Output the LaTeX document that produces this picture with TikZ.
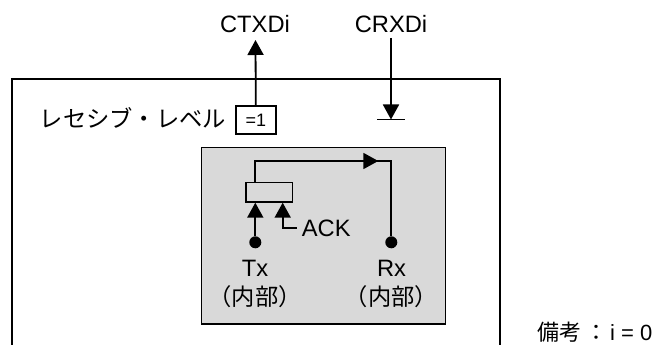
\documentclass[tikz,border=0pt]{standalone}
\usepackage{fontspec}
\setmainfont{Liberation Sans}
\newfontfamily\cjk{Noto Sans CJK JP}
\usetikzlibrary{arrows.meta}
\definecolor{boxgray}{HTML}{D9D9D9}
\tikzset{
  ln/.style={draw=black,line width=1.8pt},
  arr/.style={ln,-{Triangle[length=15pt,width=16pt]}},
  lbl/.style={inner sep=0pt,font=\fontsize{23.7}{26}\selectfont,text=black},
  jp/.style={inner sep=0pt,font=\cjk\fontsize{23.3}{26}\selectfont,text=black},
  dot/.style={circle,fill=black,inner sep=0pt,minimum size=12pt}
}
\begin{document}
\begin{tikzpicture}[x=1pt,y=-1pt]
\useasboundingbox (0,0) rectangle (654,345);
\coordinate (ol) at (11.7,345);
\coordinate (otl) at (11.7,79.3);
\coordinate (otr) at (500,79.3);
\coordinate (or) at (500,345);
\draw[ln] (ol) -- (otl) -- (otr) -- (or);
\node[draw=black,line width=1.5pt,fill=boxgray,minimum width=244pt,minimum height=176.5pt,inner sep=0pt] (gray) at (323.5,235.5) {};
\node[lbl] (ctx) at (255,23.7) {CTXDi};
\node[lbl] (crx) at (391,23.7) {CRXDi};
\node[jp,anchor=west] (rec) at (39.5,118) {レセシブ・レベル};
\node[draw=black,line width=1.5pt,fill=white,minimum width=40pt,minimum height=28pt,inner sep=0pt,font=\fontsize{18}{20}\selectfont] (eq) at (255.8,120) {=1};
\coordinate (ctxe) at (255.5,40);
\draw[arr] (eq.north) -- (ctxe);
\coordinate (crxs) at (391,38);
\coordinate (crxe) at (391,119.5);
\draw[arr] (crxs) -- (crxe);
\coordinate (barl) at (377,119.5);
\coordinate (barr) at (405,119.5);
\draw[ln] (barl) -- (barr);
\node[draw=black,line width=1.5pt,fill=boxgray,minimum width=46.5pt,minimum height=19.5pt,inner sep=0pt] (reg) at (269.3,192) {};
\node[dot] (txd) at (255.3,242.3) {};
\node[dot] (rxd) at (391.3,242.3) {};
\coordinate (txe) at (255.3,202.7);
\draw[arr] (txd) -- (txe);
\coordinate (acke) at (282.7,202.7);
\coordinate (ackc) at (282.7,228.3);
\coordinate (acks) at (296.7,228.3);
\draw[ln] (acks) -- (ackc) -- (282.7,215);
\draw[arr] (ackc) -- (acke);
\node[lbl,anchor=west] (ack) at (301.7,228) {ACK};
\coordinate (regt) at (255.3,182.3);
\coordinate (up) at (255.3,161);
\coordinate (rt) at (391.3,161);
\coordinate (mid) at (378.3,161);
\draw[ln] (regt) -- (up) -- (rt) -- (rxd);
\draw[arr] (up) -- (mid);
\node[lbl] (tx) at (255,268) {Tx};
\node[lbl] (rx) at (391.5,268) {Rx};
\node[jp] (txi) at (255,296.7) {（内部）};
\node[jp] (rxi) at (391.5,296.7) {（内部）};
\node[inner sep=0pt,anchor=west,text=black,font=\fontsize{22}{24}\selectfont] (note) at (537,331.7) {{\cjk 備考\hspace{4pt}：}\hspace{3pt}i = 0};
\end{tikzpicture}
\end{document}
